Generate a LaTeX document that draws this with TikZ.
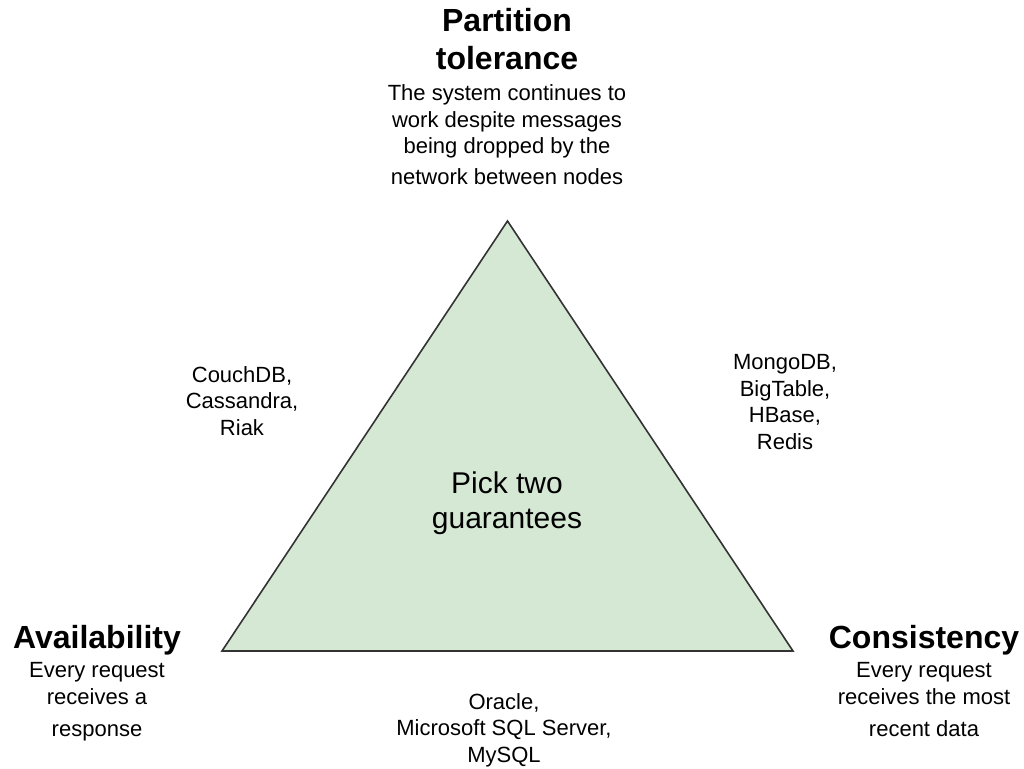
\documentclass[tikz,border=0pt]{standalone}
\usepackage{fontspec}
\setmainfont{Liberation Sans}
\begin{document}
\begin{tikzpicture}[x=1pt,y=-1pt,
  title/.style={font=\fontsize{32}{38}\selectfont\bfseries, align=center, anchor=base, inner sep=0pt},
  desc/.style={font=\fontsize{22}{26.5}\selectfont, align=center, anchor=base, inner sep=0pt},
  center/.style={font=\fontsize{30}{35}\selectfont, align=center, anchor=base, inner sep=0pt},
  tri/.style={fill=triGreen, draw=triLine, line width=1.6pt, line join=miter}]
\definecolor{triGreen}{HTML}{D5E8D4}
\definecolor{triLine}{HTML}{333333}
\useasboundingbox (0,0) rectangle (1024,768);
\coordinate (apex) at (507.5,221);
\coordinate (left) at (222,651);
\coordinate (right) at (793,651);
\draw[tri] (apex) -- (left) -- (right) -- cycle;

% anchor=base is the baseline of the last line
\node[title] (ptitle) at (507,70) {Partition\\tolerance};
\node[desc] (pdesc) at (507,184) {The system continues to\\work despite messages\\being dropped by the\\[4pt]network between nodes};

\node[title] (atitle) at (97,648) {Availability};
\node[desc] (adesc) at (97,736) {Every request\\[1pt]receives a\\[5pt]response};

\node[title] (ctitle) at (924,648) {Consistency};
\node[desc] (cdesc) at (924,736) {Every request\\[1pt]receives the most\\[5pt]recent data};

\node[center] (pick) at (507,528) {Pick two\\guarantees};

\node[desc] (ap) at (242,435) {CouchDB,\\Cassandra,\\Riak};
\node[desc] (cp) at (785,449) {MongoDB,\\BigTable,\\HBase,\\Redis};
\node[desc] (ca) at (504,762) {Oracle,\\Microsoft SQL Server,\\MySQL};
\end{tikzpicture}
\end{document}
